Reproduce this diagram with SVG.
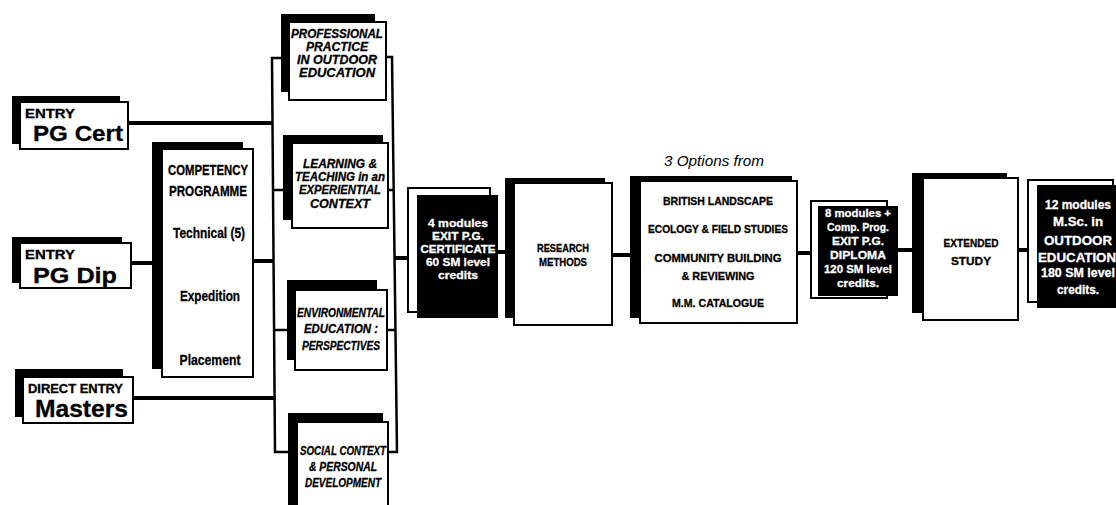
<svg xmlns="http://www.w3.org/2000/svg" width="1116" height="505" viewBox="0 0 1116 505">
<style>
.bk{fill:#000}
.wb{fill:#fff;stroke:#000;stroke-width:2}
.t{font-family:"Liberation Sans",Arial,sans-serif;font-weight:bold;fill:#000;stroke:#000;stroke-width:0.3}
.ti{font-family:"Liberation Sans",Arial,sans-serif;font-weight:bold;font-style:italic;fill:#000;stroke:#000;stroke-width:0.3;text-anchor:middle}
.tw{font-family:"Liberation Sans",Arial,sans-serif;font-weight:bold;fill:#fff;stroke:#fff;stroke-width:0.3;text-anchor:middle}
.tc{font-family:"Liberation Sans",Arial,sans-serif;font-weight:bold;fill:#000;stroke:#000;stroke-width:0.3;text-anchor:middle}
.c{stroke:#000;fill:none}
.thick{stroke-width:4}
.thin{stroke-width:2.5}
</style>
<rect width="1116" height="505" fill="#fff"/>
<g id="connectors">
<line class="c thick" x1="128" y1="123" x2="273" y2="123"/>
<line class="c thick" x1="131" y1="263" x2="153" y2="263"/>
<line class="c thick" x1="253" y1="261" x2="274" y2="261"/>
<line class="c thick" x1="133" y1="398" x2="276" y2="398"/>
<polyline class="c thin" points="289,58 272,58 275,452 297,452"/>
<line class="c thin" x1="273" y1="190" x2="292" y2="190"/>
<line class="c thin" x1="274" y1="330" x2="295" y2="330"/>
<polyline class="c thin" points="386,57 392,57 397,452 388,452"/>
<line class="c thin" x1="388" y1="190" x2="393" y2="190"/>
<line class="c thin" x1="387" y1="330" x2="396" y2="330"/>
<line class="c thick" x1="395" y1="258" x2="409" y2="258"/>
<line class="c thick" x1="498" y1="252" x2="506" y2="252"/>
<line class="c thick" x1="612" y1="255" x2="631" y2="255"/>
<line class="c thick" x1="797" y1="253" x2="811" y2="253"/>
<line class="c thick" x1="898" y1="250" x2="913" y2="250"/>
<line class="c thick" x1="1018" y1="250" x2="1029" y2="250"/>
</g>
<g id="entry-pgcert">
<rect class="bk" x="12" y="96" width="108" height="48"/>
<rect class="wb" x="20" y="102" width="108" height="47"/>
<text class="t" x="25" y="118" font-size="12" textLength="50" lengthAdjust="spacingAndGlyphs">ENTRY</text>
<text class="t" x="33" y="141" font-size="22" textLength="90" lengthAdjust="spacingAndGlyphs">PG Cert</text>
</g>
<g id="entry-pgdip">
<rect class="bk" x="12" y="237" width="110" height="46"/>
<rect class="wb" x="20" y="243" width="111" height="45"/>
<text class="t" x="25" y="259" font-size="12" textLength="50" lengthAdjust="spacingAndGlyphs">ENTRY</text>
<text class="t" x="33" y="283" font-size="22" textLength="84" lengthAdjust="spacingAndGlyphs">PG Dip</text>
</g>
<g id="direct-masters">
<rect class="bk" x="15" y="369" width="108" height="48"/>
<rect class="wb" x="23" y="377" width="110" height="46"/>
<text class="t" x="28" y="393" font-size="12" textLength="95" lengthAdjust="spacingAndGlyphs">DIRECT ENTRY</text>
<text class="t" x="35" y="417" font-size="24" textLength="93" lengthAdjust="spacingAndGlyphs">Masters</text>
</g>
<g id="competency">
<rect class="bk" x="152" y="142" width="91" height="227"/>
<rect class="wb" x="162" y="149" width="91" height="228"/>
<text class="tc" x="208" y="175" font-size="15" textLength="80" lengthAdjust="spacingAndGlyphs">COMPETENCY</text>
<text class="tc" x="208" y="196" font-size="15" textLength="78" lengthAdjust="spacingAndGlyphs">PROGRAMME</text>
<text class="tc" x="209" y="238" font-size="15" textLength="72" lengthAdjust="spacingAndGlyphs">Technical (5)</text>
<text class="tc" x="210" y="301" font-size="15" textLength="60" lengthAdjust="spacingAndGlyphs">Expedition</text>
<text class="tc" x="210" y="365" font-size="15" textLength="61" lengthAdjust="spacingAndGlyphs">Placement</text>
</g>
<g id="mod-professional">
<rect class="bk" x="281" y="14" width="94" height="78"/>
<rect class="wb" x="289" y="22" width="97" height="78"/>
<text class="ti" x="337" y="38" font-size="12" textLength="92" lengthAdjust="spacingAndGlyphs">PROFESSIONAL</text>
<text class="ti" x="337" y="51" font-size="12" textLength="62" lengthAdjust="spacingAndGlyphs">PRACTICE</text>
<text class="ti" x="337" y="64" font-size="12" textLength="80" lengthAdjust="spacingAndGlyphs">IN OUTDOOR</text>
<text class="ti" x="337" y="77" font-size="12" textLength="76" lengthAdjust="spacingAndGlyphs">EDUCATION</text>
</g>
<g id="mod-learning">
<rect class="bk" x="283" y="135" width="100" height="85"/>
<rect class="wb" x="292" y="143" width="96" height="85"/>
<text class="ti" x="340" y="168" font-size="12" textLength="74" lengthAdjust="spacingAndGlyphs">LEARNING &amp;</text>
<text class="ti" x="340" y="181" font-size="12" textLength="90" lengthAdjust="spacingAndGlyphs">TEACHING in an</text>
<text class="ti" x="340" y="194" font-size="12" textLength="82" lengthAdjust="spacingAndGlyphs">EXPERIENTIAL</text>
<text class="ti" x="340" y="208" font-size="12" textLength="60" lengthAdjust="spacingAndGlyphs">CONTEXT</text>
</g>
<g id="mod-environmental">
<rect class="bk" x="287" y="280" width="90" height="80"/>
<rect class="wb" x="295" y="290" width="92" height="80"/>
<text class="ti" x="341" y="317" font-size="12" textLength="88" lengthAdjust="spacingAndGlyphs">ENVIRONMENTAL</text>
<text class="ti" x="341" y="333" font-size="12" textLength="74" lengthAdjust="spacingAndGlyphs">EDUCATION :</text>
<text class="ti" x="341" y="350" font-size="12" textLength="78" lengthAdjust="spacingAndGlyphs">PERSPECTIVES</text>
</g>
<g id="mod-social">
<rect class="bk" x="288" y="413" width="95" height="95"/>
<rect class="wb" x="297" y="422" width="91" height="90"/>
<text class="ti" x="343" y="455" font-size="12" textLength="86" lengthAdjust="spacingAndGlyphs">SOCIAL CONTEXT</text>
<text class="ti" x="343" y="471" font-size="12" textLength="68" lengthAdjust="spacingAndGlyphs">&amp; PERSONAL</text>
<text class="ti" x="343" y="487" font-size="12" textLength="76" lengthAdjust="spacingAndGlyphs">DEVELOPMENT</text>
</g>
<g id="exit-pgcert">
<rect class="wb" x="408" y="188" width="82" height="124"/>
<rect class="bk" x="417" y="195" width="81" height="123"/>
<text class="tw" x="458" y="227" font-size="11.5" textLength="60" lengthAdjust="spacingAndGlyphs">4 modules</text>
<text class="tw" x="458" y="240" font-size="11.5" textLength="52" lengthAdjust="spacingAndGlyphs">EXIT P.G.</text>
<text class="tw" x="458" y="253" font-size="11.5" textLength="75" lengthAdjust="spacingAndGlyphs">CERTIFICATE</text>
<text class="tw" x="458" y="266" font-size="11.5" textLength="64" lengthAdjust="spacingAndGlyphs">60 SM level</text>
<text class="tw" x="458" y="279" font-size="11.5" textLength="40" lengthAdjust="spacingAndGlyphs">credits</text>
</g>
<g id="research">
<rect class="bk" x="505" y="178" width="100" height="140"/>
<rect class="wb" x="514" y="183" width="98" height="142"/>
<text class="tc" x="563" y="252" font-size="11" textLength="52" lengthAdjust="spacingAndGlyphs">RESEARCH</text>
<text class="tc" x="563" y="266" font-size="11" textLength="48" lengthAdjust="spacingAndGlyphs">METHODS</text>
</g>
<g id="options">
<text x="714" y="166" font-family="Liberation Sans, Arial, sans-serif" font-style="italic" font-size="15" text-anchor="middle" textLength="100" lengthAdjust="spacingAndGlyphs">3 Options from</text>
<rect class="bk" x="630" y="176" width="162" height="142"/>
<rect class="wb" x="640" y="181" width="157" height="142"/>
<text class="tc" x="718" y="205" font-size="11" textLength="110" lengthAdjust="spacingAndGlyphs">BRITISH LANDSCAPE</text>
<text class="tc" x="718" y="233" font-size="11" textLength="140" lengthAdjust="spacingAndGlyphs">ECOLOGY &amp; FIELD STUDIES</text>
<text class="tc" x="718" y="262" font-size="11" textLength="127" lengthAdjust="spacingAndGlyphs">COMMUNITY BUILDING</text>
<text class="tc" x="718" y="280" font-size="11" textLength="73" lengthAdjust="spacingAndGlyphs">&amp; REVIEWING</text>
<text class="tc" x="718" y="307" font-size="11" textLength="92" lengthAdjust="spacingAndGlyphs">M.M. CATALOGUE</text>
</g>
<g id="exit-pgdip">
<rect class="wb" x="811" y="201" width="76" height="97"/>
<rect class="bk" x="818" y="206" width="80" height="90"/>
<text class="tw" x="858" y="217" font-size="11.5" textLength="66" lengthAdjust="spacingAndGlyphs">8 modules +</text>
<text class="tw" x="858" y="231" font-size="11.5" textLength="62" lengthAdjust="spacingAndGlyphs">Comp. Prog.</text>
<text class="tw" x="858" y="245" font-size="11.5" textLength="52" lengthAdjust="spacingAndGlyphs">EXIT P.G.</text>
<text class="tw" x="858" y="259" font-size="11.5" textLength="56" lengthAdjust="spacingAndGlyphs">DIPLOMA</text>
<text class="tw" x="858" y="273" font-size="11.5" textLength="68" lengthAdjust="spacingAndGlyphs">120 SM level</text>
<text class="tw" x="858" y="287" font-size="11.5" textLength="42" lengthAdjust="spacingAndGlyphs">credits.</text>
</g>
<g id="extended">
<rect class="bk" x="912" y="173" width="95" height="140"/>
<rect class="wb" x="923" y="178" width="95" height="142"/>
<text class="tc" x="971" y="247" font-size="11" textLength="55" lengthAdjust="spacingAndGlyphs">EXTENDED</text>
<text class="tc" x="971" y="265" font-size="11" textLength="40" lengthAdjust="spacingAndGlyphs">STUDY</text>
</g>
<g id="msc">
<rect class="wb" x="1028" y="180" width="85" height="122"/>
<rect class="bk" x="1037" y="185" width="79" height="123"/>
<text class="tw" x="1078" y="209" font-size="12" textLength="66" lengthAdjust="spacingAndGlyphs">12 modules</text>
<text class="tw" x="1078" y="226" font-size="12" textLength="50" lengthAdjust="spacingAndGlyphs">M.Sc. in</text>
<text class="tw" x="1078" y="245" font-size="13" textLength="68" lengthAdjust="spacingAndGlyphs">OUTDOOR</text>
<text class="tw" x="1077" y="262" font-size="13" textLength="78" lengthAdjust="spacingAndGlyphs">EDUCATION</text>
<text class="tw" x="1078" y="277" font-size="12" textLength="74" lengthAdjust="spacingAndGlyphs">180 SM level</text>
<text class="tw" x="1078" y="294" font-size="12" textLength="42" lengthAdjust="spacingAndGlyphs">credits.</text>
</g>
</svg>
